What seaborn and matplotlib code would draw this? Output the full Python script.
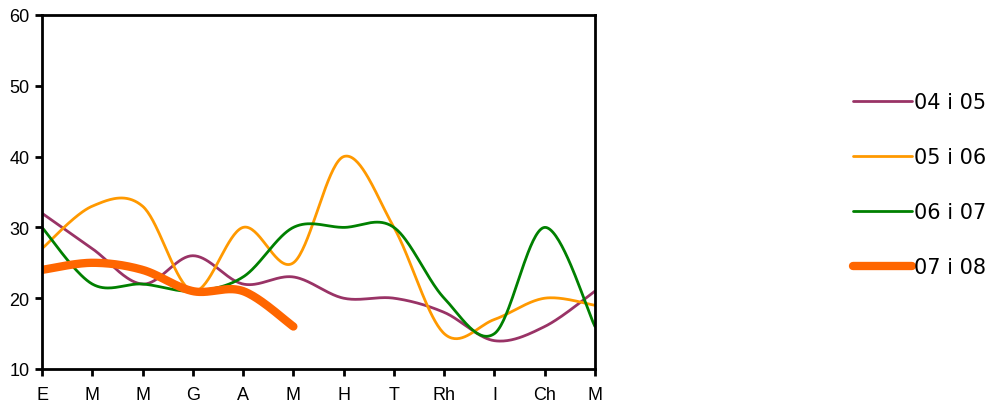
import numpy as np
import pandas as pd
import matplotlib
matplotlib.use("Agg")
import matplotlib.pyplot as plt
import seaborn as sns
from matplotlib.lines import Line2D

months = ["E", "M", "M", "G", "A", "M", "H", "T", "Rh", "I", "Ch", "M"]
s0405 = [32, 27, 22, 26, 22, 23, 20, 20, 18, 14, 16, 21]
s0506 = [27, 33, 33, 21, 30, 25, 40, 30, 15, 17, 20, 19]
s0607 = [30, 22, 22, 21, 23, 30, 30, 30, 20, 15, 30, 16]
s0708 = [24, 25, 24, 21, 21, 16]
names = ["04 i 05", "05 i 06", "06 i 07", "07 i 08"]
colors = ["#993366", "#FF9900", "#008000", "#FF6600"]
widths = [2.0, 2.0, 2.0, 6.0]


def smooth(vals, n=40):
    # Excel-style smoothed line (Catmull-Rom Bezier through points)
    x = np.arange(len(vals), dtype=float)
    y = np.asarray(vals, dtype=float)
    P = np.column_stack([x, y])
    Pp = np.vstack([P[0], P, P[-1]])
    out = []
    t = np.linspace(0, 1, n)[:, None]
    for i in range(len(P) - 1):
        p0, p1, p2, p3 = Pp[i], Pp[i + 1], Pp[i + 2], Pp[i + 3]
        b0 = p1
        b1 = p1 + (p2 - p0) / 6
        b2 = p2 - (p3 - p1) / 6
        b3 = p2
        seg = ((1 - t) ** 3) * b0 + 3 * ((1 - t) ** 2) * t * b1 + 3 * (1 - t) * t ** 2 * b2 + t ** 3 * b3
        out.append(seg if i == 0 else seg[1:])
    out = np.vstack(out)
    return out[:, 0], out[:, 1]


sns.set_style("white")
plt.rcParams["font.family"] = ["Liberation Sans", "DejaVu Sans"]

fig = plt.figure(figsize=(9.92, 4.10), dpi=100)
ax = fig.add_axes([42 / 992, 40 / 410, (595 - 42) / 992, (370 - 16) / 410])

for name, vals, c, w in zip(names, [s0405, s0506, s0607, s0708], colors, widths):
    xs, ys = smooth(vals)
    df = pd.DataFrame({"x": xs, "y": ys})
    sns.lineplot(data=df, x="x", y="y", ax=ax, color=c, linewidth=w,
                 sort=False, estimator=None, solid_capstyle="round")

ax.set_xlim(0, 11)
ax.set_ylim(10, 60)
ax.set_xticks(range(len(months)))
ax.set_xticklabels(months)
ax.set_yticks([10, 20, 30, 40, 50, 60])
ax.set_xlabel("")
ax.set_ylabel("")
for sp in ax.spines.values():
    sp.set_visible(True)
    sp.set_linewidth(2)
    sp.set_color("black")
ax.tick_params(axis="both", which="major", direction="out", length=5, width=2,
               color="black", labelsize=13, labelcolor="black", pad=4,
               bottom=True, left=True)
ax.tick_params(axis="x", pad=7)

handles = [Line2D([0], [0], color=c, lw=w, solid_capstyle="round") for c, w in zip(colors, widths)]
fig.legend(handles, names, loc="center left", bbox_to_anchor=(834 / 992, 1 - 186 / 410),
           frameon=False, handlelength=2.85, handletextpad=0.1, labelcolor="black",
           labelspacing=1.68, prop={"family": ["DejaVu Sans"], "size": 15})

fig.savefig("out.png", dpi=100)
